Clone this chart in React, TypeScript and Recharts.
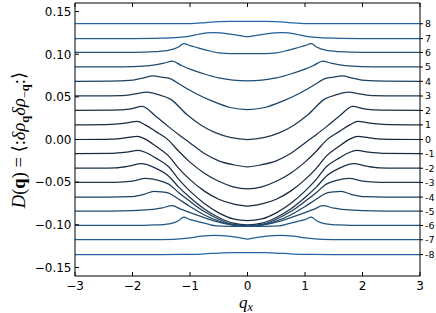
import React from 'react';
import { LineChart, Line, XAxis, YAxis } from 'recharts';

// Level labels (right axis) and their asymptotic values D at |q_x| -> 3
const levels = [8, 7, 6, 5, 4, 3, 2, 1, 0, -1, -2, -3, -4, -5, -6, -7, -8];
const levelLabels = ['8', '7', '6', '5', '4', '3', '2', '1', '0', '-1', '-2', '-3', '-4', '-5', '-6', '-7', '-8'];
const baselines = [0.1357, 0.1182, 0.102, 0.085, 0.0682, 0.051, 0.034, 0.0172, 0, -0.0167, -0.0337, -0.0504, -0.0675, -0.084, -0.1008, -0.1175, -0.1349];

// Axis ticks
const xTicks = [-3, -2, -1, 0, 1, 2, 3];
const yTicks = [0.15, 0.1, 0.05, 0, -0.05, -0.1, -0.15];

// Curves are symmetric in q_x: values read for q_x >= 0
const qxP8 = [0, 0.3, 0.5, 0.72, 1.0, 1.5, 3];
const dP8 = [0.1385, 0.1384, 0.1381, 0.137, 0.1358, 0.1357, 0.1357];
const qxP7 = [0, 0.12, 0.3, 0.6, 0.84, 1.0, 1.2, 1.5, 2.0, 3];
const dP7 = [0.1205, 0.1218, 0.1236, 0.1252, 0.1235, 0.1212, 0.1196, 0.1187, 0.1183, 0.1182];
const qxP6 = [0, 0.3, 0.5, 0.7, 0.86, 1.0, 1.11, 1.2, 1.36, 1.6, 2.0, 3];
const dP6 = [0.1008, 0.1008, 0.1015, 0.1045, 0.1075, 0.11, 0.1124, 0.1085, 0.1047, 0.103, 0.1021, 0.102];
const qxP5 = [0, 0.25, 0.5, 0.75, 1.0, 1.15, 1.31, 1.45, 1.7, 2.0, 2.4, 3];
const dP5 = [0.0686, 0.0695, 0.0722, 0.0768, 0.0825, 0.0868, 0.0919, 0.0895, 0.0866, 0.0855, 0.0851, 0.085];
const qxP4 = [0, 0.3, 0.6, 0.9, 1.15, 1.36, 1.5, 1.64, 1.85, 2.05, 2.4, 3];
const dP4 = [0.035, 0.0375, 0.0446, 0.054, 0.0635, 0.0717, 0.0732, 0.0746, 0.0716, 0.0692, 0.0684, 0.0682];
const qxP3 = [0, 0.3, 0.55, 0.8, 1.05, 1.34, 1.55, 1.75, 1.95, 2.2, 2.6, 3];
const dP3 = [0, 0.0025, 0.0078, 0.0165, 0.029, 0.0473, 0.0525, 0.0555, 0.0535, 0.0513, 0.051, 0.051];
const qxP2 = [0, 0.25, 0.5, 0.75, 1.0, 1.2, 1.37, 1.6, 1.83, 2.05, 2.35, 3];
const dP2 = [-0.032, -0.0295, -0.025, -0.0165, -0.004, 0.006, 0.0148, 0.0275, 0.0388, 0.0356, 0.0343, 0.034];
const qxP1 = [0, 0.25, 0.5, 0.75, 1.0, 1.2, 1.37, 1.6, 1.78, 1.92, 2.1, 2.35, 3];
const dP1 = [-0.058, -0.0555, -0.049, -0.0395, -0.0265, -0.0135, -0.001, 0.0095, 0.0172, 0.0213, 0.0195, 0.0178, 0.0172];
const qx0 = [0, 0.25, 0.5, 0.75, 1.0, 1.2, 1.37, 1.6, 1.78, 1.92, 2.1, 2.35, 3];
const d0 = [-0.078, -0.0755, -0.07, -0.0605, -0.047, -0.0335, -0.0195, -0.0075, 0.0005, 0.0038, 0.0022, 0.0005, 0];
const qxM1 = [0, 0.25, 0.5, 0.75, 1.0, 1.2, 1.37, 1.6, 1.76, 1.9, 2.1, 2.35, 3];
const dM1 = [-0.095, -0.093, -0.086, -0.075, -0.0605, -0.0465, -0.032, -0.0215, -0.0155, -0.0128, -0.0148, -0.0163, -0.0167];
const qxM2 = [0, 0.25, 0.5, 0.75, 1.0, 1.2, 1.37, 1.6, 1.85, 2.05, 2.3, 3];
const dM2 = [-0.1, -0.098, -0.0915, -0.0815, -0.068, -0.0555, -0.043, -0.0335, -0.0283, -0.031, -0.0332, -0.0337];
const qxM3 = [0, 0.25, 0.5, 0.75, 1.0, 1.2, 1.37, 1.55, 1.77, 2.0, 2.3, 3];
const dM3 = [-0.101, -0.0995, -0.0935, -0.0845, -0.0725, -0.062, -0.0523, -0.0478, -0.0457, -0.0488, -0.0502, -0.0504];
const qxM4 = [0, 0.25, 0.5, 0.75, 1.0, 1.2, 1.37, 1.5, 1.63, 1.8, 2.05, 2.4, 3];
const dM4 = [-0.1012, -0.1, -0.0955, -0.0885, -0.0785, -0.0698, -0.0628, -0.0613, -0.0609, -0.0642, -0.067, -0.0675, -0.0675];
const qxM5 = [0, 0.25, 0.55, 0.8, 1.01, 1.15, 1.31, 1.5, 1.71, 2.0, 2.4, 3];
const dM5 = [-0.1014, -0.1005, -0.096, -0.0905, -0.0855, -0.082, -0.0775, -0.0805, -0.0823, -0.0835, -0.084, -0.084];
const qxM6 = [0, 0.3, 0.55, 0.7, 0.86, 1.0, 1.11, 1.2, 1.36, 1.6, 2.0, 3];
const dM6 = [-0.1018, -0.1017, -0.1012, -0.099, -0.0962, -0.094, -0.091, -0.0952, -0.0988, -0.1002, -0.1008, -0.1008];
const qxM7 = [0, 0.12, 0.3, 0.57, 0.8, 1.0, 1.3, 1.7, 3];
const dM7 = [-0.1168, -0.1152, -0.1136, -0.1124, -0.1133, -0.1152, -0.117, -0.1175, -0.1175];
const qxM8 = [0, 0.3, 0.5, 0.75, 1.0, 1.5, 3];
const dM8 = [-0.1326, -0.1327, -0.1331, -0.134, -0.1347, -0.1349, -0.1349];

const halfCurves: [number[], number[]][] = [
  [qxP8, dP8], [qxP7, dP7], [qxP6, dP6], [qxP5, dP5], [qxP4, dP4], [qxP3, dP3], [qxP2, dP2], [qxP1, dP1],
  [qx0, d0], [qxM1, dM1], [qxM2, dM2], [qxM3, dM3], [qxM4, dM4], [qxM5, dM5], [qxM6, dM6], [qxM7, dM7], [qxM8, dM8],
];

const colorsByAbsLevel = ['#18263a', '#192b41', '#1a3149', '#1c3954', '#1d4262', '#1f4c72', '#205682', '#225f94', '#2465a6'];

// Build the symmetric table for each curve
const series = halfCurves.map(([qx, d], i) => {
  const left = qx.filter((v) => v > 0).map((v, j) => ({ x: -v, y: d[j + 1] })).reverse();
  const right = qx.map((v, j) => ({ x: v, y: d[j] }));
  return { level: levels[i], data: [...left, ...right] };
});

const SANS = '"DejaVu Sans", sans-serif';
const SERIF = '"Liberation Serif", "DejaVu Serif", serif';

const fmtY = (v: number) => {
  const s = Math.abs(v).toFixed(2);
  return v < -1e-9 ? '\u2212' + s : s;
};
const fmtX = (v: number) => (v < 0 ? '\u2212' + Math.abs(v) : String(v));

const LeftTick = (props: any) => {
  const { x, y, payload } = props;
  const ax = x + 3;
  return (
    <g>
      <line x1={ax} x2={ax + 4} y1={y} y2={y} stroke="#000" strokeWidth={1} />
      <text x={x - 0.5} y={y} dy="0.36em" textAnchor="end" fontSize={12} fontFamily={SANS} fill="#000">
        {fmtY(payload.value)}
      </text>
    </g>
  );
};

const BottomTick = (props: any) => {
  const { x, y, payload } = props;
  const ay = y - 5;
  return (
    <g>
      <line x1={x} x2={x} y1={ay} y2={ay - 4} stroke="#000" strokeWidth={1} />
      <text x={x} y={y} dy="0.72em" textAnchor="middle" fontSize={12} fontFamily={SANS} fill="#000">
        {fmtX(payload.value)}
      </text>
    </g>
  );
};

const TopTick = (props: any) => {
  const { x, y } = props;
  return <line x1={x} x2={x} y1={y} y2={y + 4} stroke="#000" strokeWidth={1} />;
};

const RightTick = (props: any) => {
  const { x, y, payload } = props;
  const ax = x - 5;
  return (
    <g>
      <line x1={ax} x2={ax + 3} y1={y} y2={y} stroke="#000" strokeWidth={1} />
      <text x={x} y={y} dy="0.36em" textAnchor="start" fontSize={9.5} fontFamily={SANS} fill="#000">
        {levelLabels[baselines.indexOf(payload.value)] ?? ''}
      </text>
    </g>
  );
};

export default function App() {
  return (
    <div style={{ position: 'absolute', left: 0, top: 0, width: 436, height: 313, background: '#fff' }}>
      <LineChart width={436} height={313} margin={{ top: 0, right: 0, bottom: 0, left: 0 }}>
        <XAxis
          dataKey="x"
          type="number"
          domain={[-3, 3]}
          ticks={xTicks}
          interval={0}
          allowDataOverflow
          height={37}
          axisLine={{ stroke: '#000', strokeWidth: 1 }}
          tickLine={false}
          tickSize={0}
          tickMargin={5}
          tick={<BottomTick />}
        />
        <XAxis
          xAxisId="top"
          orientation="top"
          dataKey="x"
          type="number"
          domain={[-3, 3]}
          ticks={xTicks}
          interval={0}
          allowDataOverflow
          height={3}
          axisLine={{ stroke: '#000', strokeWidth: 1 }}
          tickLine={false}
          tickSize={0}
          tickMargin={0}
          tick={<TopTick />}
        />
        <YAxis
          type="number"
          domain={[-0.16, 0.16]}
          ticks={yTicks}
          interval={0}
          allowDataOverflow
          width={75}
          axisLine={{ stroke: '#000', strokeWidth: 1 }}
          tickLine={false}
          tickSize={0}
          tickMargin={3}
          tick={<LeftTick />}
        />
        <YAxis
          yAxisId="r"
          orientation="right"
          type="number"
          domain={[-0.16, 0.16]}
          ticks={baselines}
          interval={0}
          allowDataOverflow
          width={16}
          axisLine={{ stroke: '#000', strokeWidth: 1 }}
          tickLine={false}
          tickSize={0}
          tickMargin={5}
          tick={<RightTick />}
        />
        {series.map((s) => (
          <Line
            key={s.level}
            data={s.data}
            dataKey="y"
            type="monotone"
            stroke={colorsByAbsLevel[Math.abs(s.level)]}
            strokeWidth={1.25}
            dot={false}
            activeDot={false}
            isAnimationActive={false}
          />
        ))}
      </LineChart>
      <svg width={436} height={313} style={{ position: 'absolute', left: 0, top: 0, pointerEvents: 'none' }}>
        <text
          transform="translate(25,140) rotate(-90)"
          x={0}
          y={0}
          textAnchor="middle"
          fontFamily={SERIF}
          fontSize={18.5}
          fill="#000"
        >
          <tspan fontStyle="italic">D</tspan>
          <tspan>(</tspan>
          <tspan fontWeight="bold">q</tspan>
          <tspan>{') = \u27E8:'}</tspan>
          <tspan fontStyle="italic">{'\u03B4\u03C1'}</tspan>
          <tspan fontWeight="bold" fontSize={12.5} dy={4}>q</tspan>
          <tspan fontStyle="italic" dy={-4}>{'\u03B4\u03C1'}</tspan>
          <tspan fontSize={12.5} dy={4}>{'\u2212'}</tspan>
          <tspan fontSize={12.5} fontWeight="bold">q</tspan>
          <tspan dy={-4}>{':\u27E9'}</tspan>
        </text>
        <text x={246} y={308} textAnchor="middle" fontFamily={SERIF} fontSize={17} fontStyle="italic" fill="#000">
          q<tspan fontSize={12} dy={3}>x</tspan>
        </text>
      </svg>
    </div>
  );
}
